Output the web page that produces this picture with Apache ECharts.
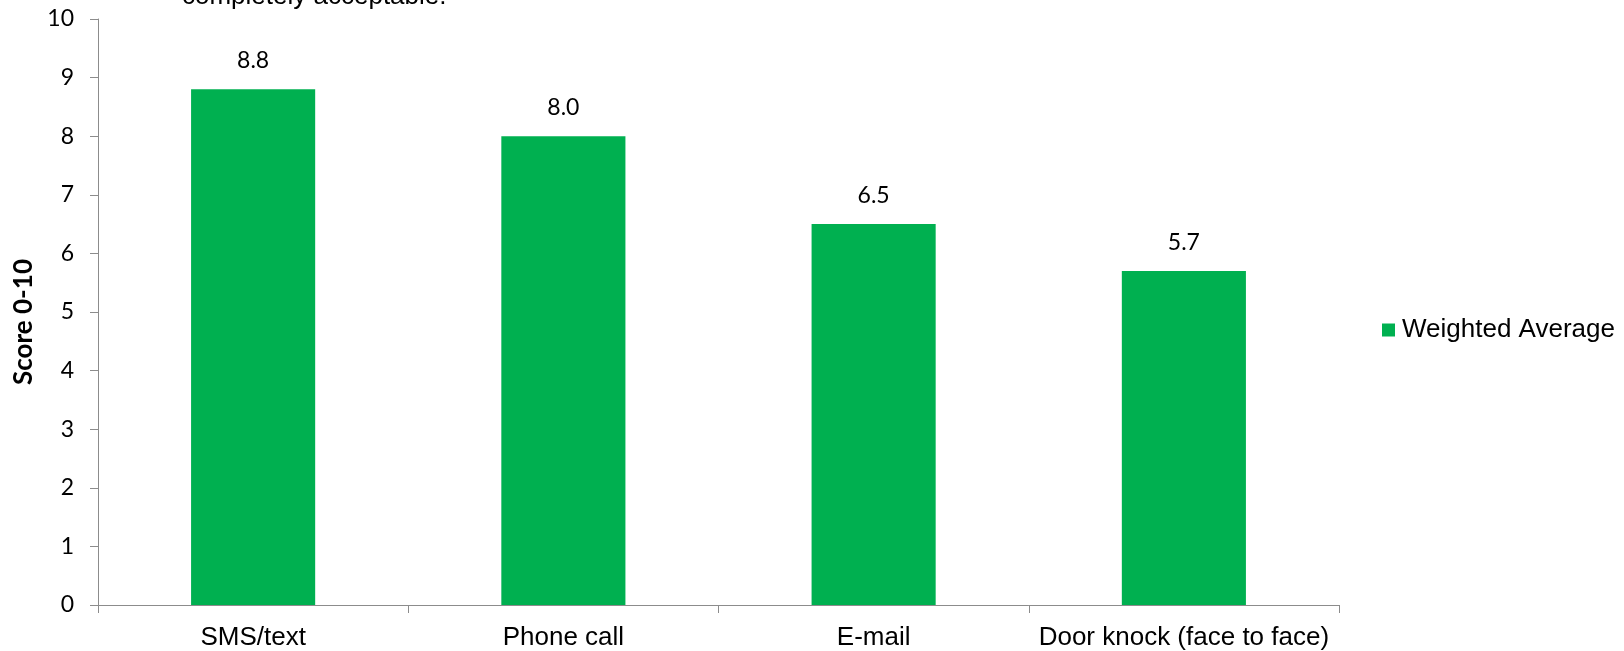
<!DOCTYPE html>
<html>
<head>
<meta charset="utf-8">
<title>Acceptability of contact methods</title>
<script src="https://cdn.jsdelivr.net/npm/echarts@6/dist/echarts.min.js"></script>
<style>
  html, body { margin: 0; padding: 0; background: #ffffff; }
  #chart { width: 1624px; height: 651px; }
</style>
</head>
<body>
<div id="chart"></div>
<script>
// Contact methods and their weighted average acceptability score (0-10)
const categories = ['SMS/text', 'Phone call', 'E-mail', 'Door knock (face to face)'];
const weightedAverage = [8.8, 8.0, 6.5, 5.7];
const seriesName = 'Weighted Average';
const yAxisTitle = 'Score 0-10';
const noteLine = 'completely acceptable.';

const green = '#00B050';
const axisGrey = '#8c8c8c';
const calibriLike = 'Lato, "Open Sans", sans-serif';
const arialLike = '"Liberation Sans", Arial, sans-serif';

const chart = echarts.init(document.getElementById('chart'), null, { renderer: 'canvas' });

chart.setOption({
  animation: false,
  backgroundColor: '#ffffff',
  grid: { left: 98, right: 285, top: 19, bottom: 45, containLabel: false },
  legend: {
    data: [seriesName],
    orient: 'vertical',
    left: 1382,
    top: 317,
    padding: 0,
    itemWidth: 13,
    itemHeight: 13,
    itemGap: 6,
    icon: 'rect',
    textStyle: { fontFamily: arialLike, fontSize: 26, lineHeight: 26, color: '#000000', padding: [0, 0, 0, 2] }
  },
  graphic: [
    {
      type: 'text',
      left: 182,
      top: -16,
      style: { text: noteLine, font: '26px ' + arialLike, fill: '#000000' }
    },
    {
      type: 'text',
      x: 24,
      y: 322,
      rotation: Math.PI / 2,
      style: {
        text: yAxisTitle,
        font: 'bold 26px ' + calibriLike,
        fill: '#000000',
        align: 'center',
        verticalAlign: 'middle'
      }
    }
  ],
  xAxis: {
    type: 'category',
    data: categories,
    boundaryGap: true,
    axisLine: { lineStyle: { color: axisGrey, width: 1 } },
    axisTick: { show: true, length: 8, lineStyle: { color: axisGrey } },
    axisLabel: { fontFamily: arialLike, fontSize: 26, color: '#000000', margin: 20, interval: 0 }
  },
  yAxis: {
    type: 'value',
    min: 0,
    max: 10,
    interval: 1,
    axisLine: { show: true, lineStyle: { color: axisGrey, width: 1 } },
    axisTick: { show: true, length: 8, lineStyle: { color: axisGrey } },
    splitLine: { show: false },
    axisLabel: { fontFamily: calibriLike, fontSize: 23, color: '#000000', margin: 24 }
  },
  series: [
    {
      name: seriesName,
      type: 'bar',
      data: weightedAverage,
      barWidth: '40%',
      itemStyle: { color: green },
      label: {
        show: true,
        position: 'top',
        distance: 17,
        fontFamily: calibriLike,
        fontSize: 23,
        color: '#000000',
        formatter: p => p.value.toFixed(1)
      }
    }
  ]
});
</script>
</body>
</html>
